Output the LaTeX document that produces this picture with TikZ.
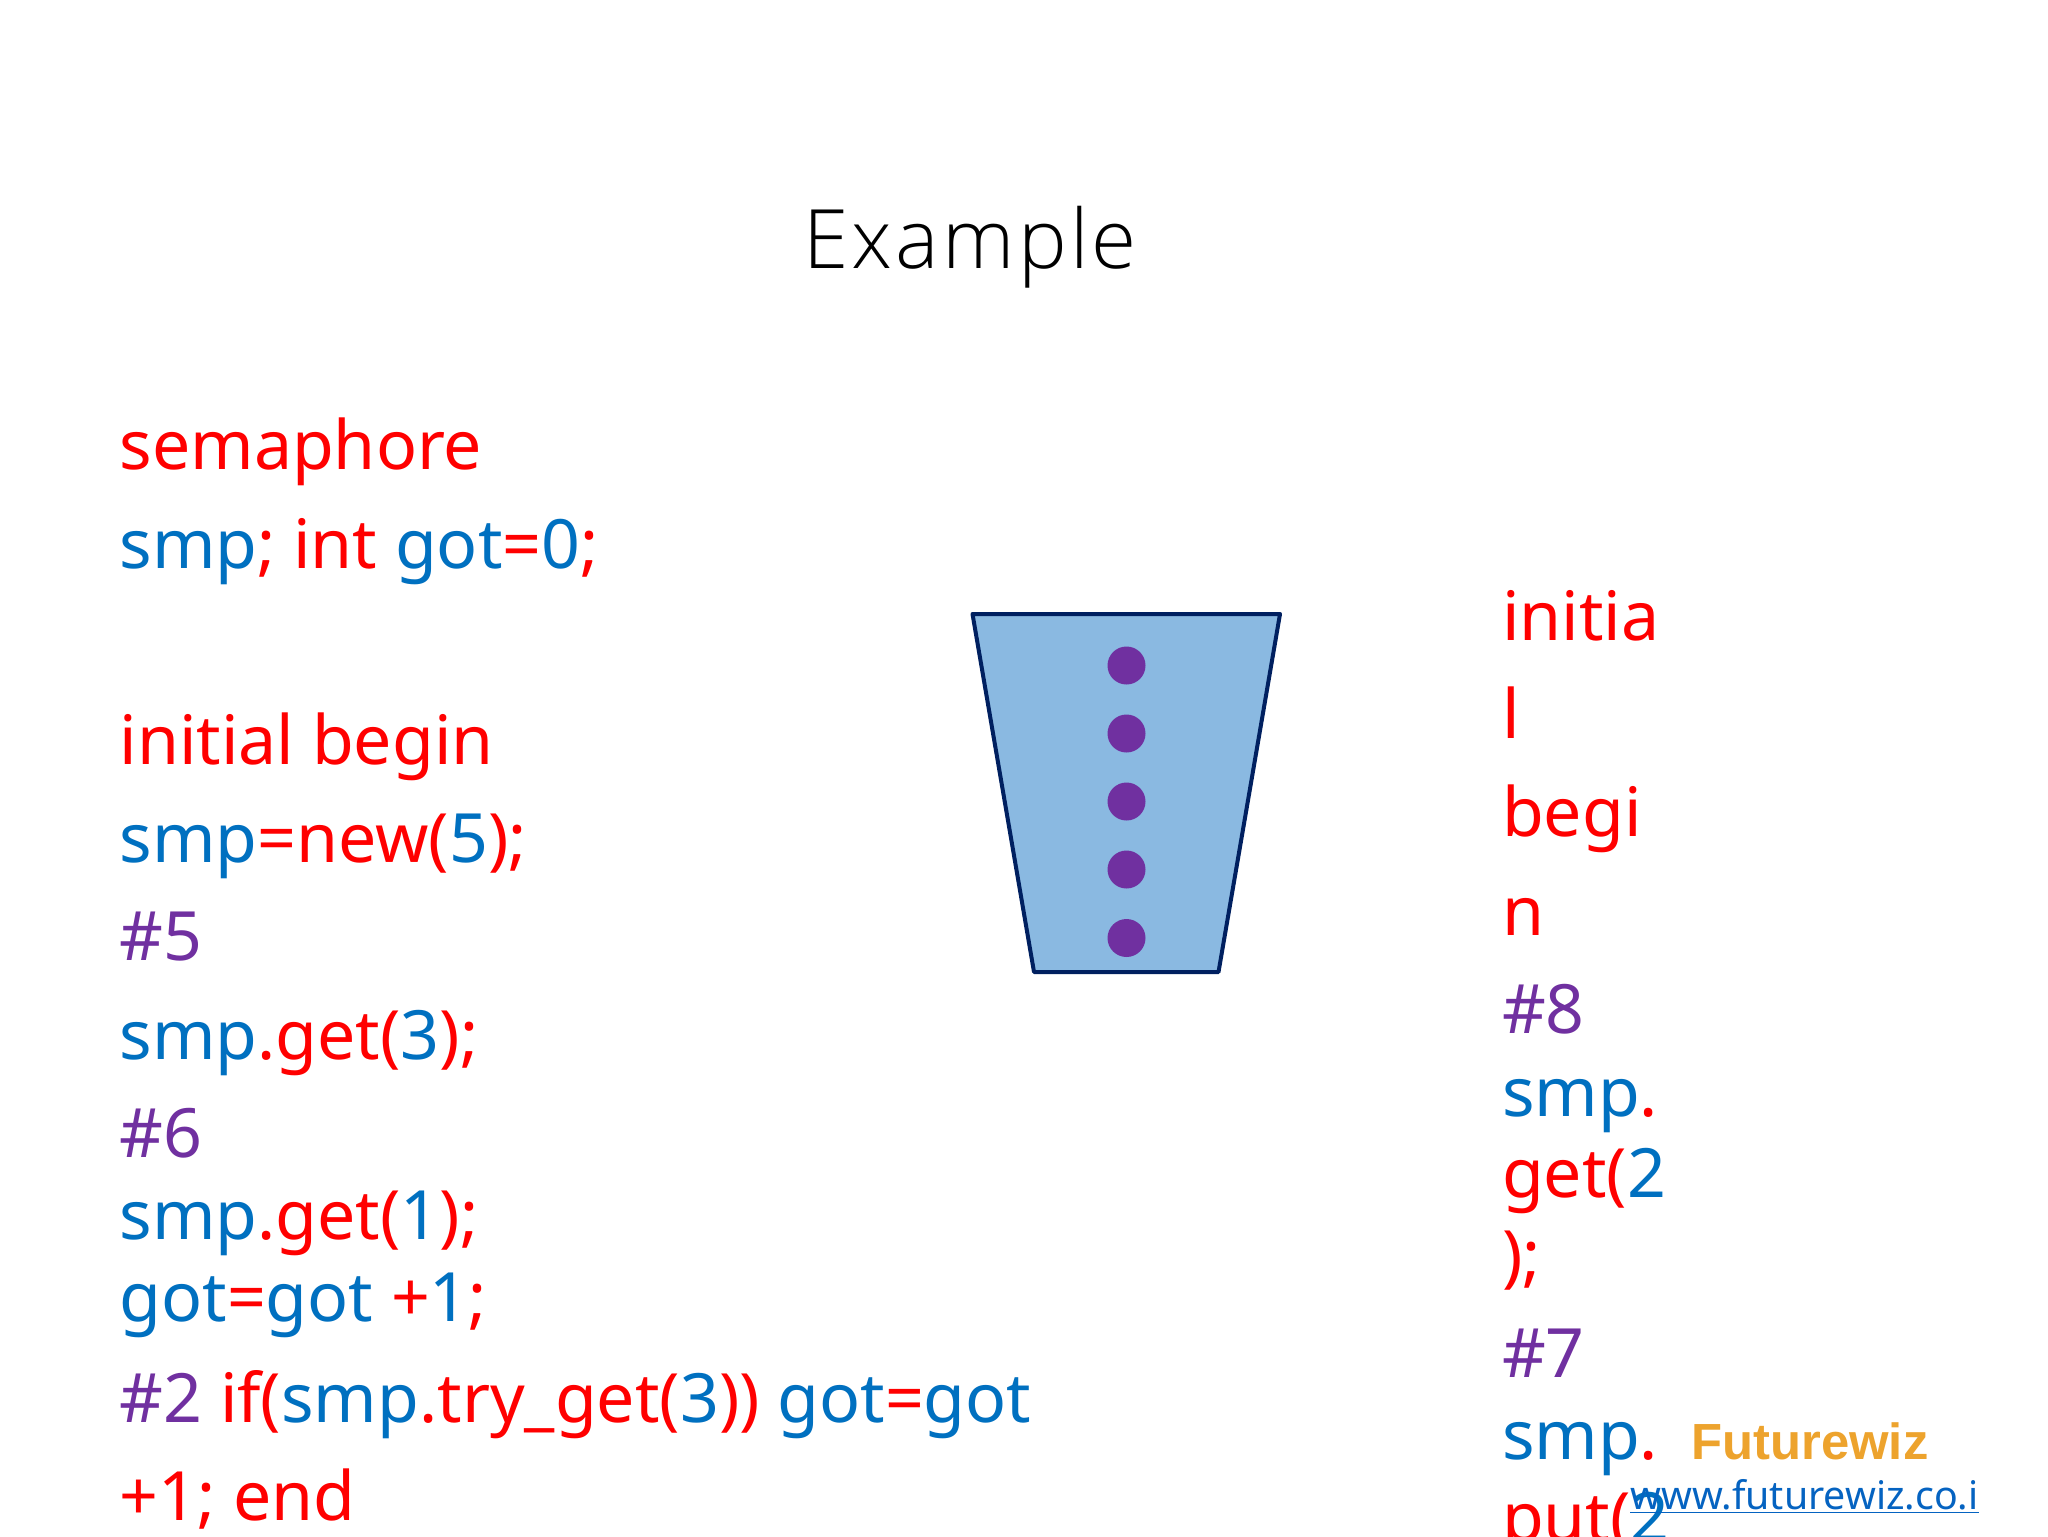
\documentclass[tikz,border=0pt]{standalone}
\usepackage{fontspec}
\setmainfont{Noto Sans}
\newfontfamily\logofont{Liberation Sans}
\newfontfamily\lightfont{Open Sans Light}
\definecolor{cred}{HTML}{FF0000}
\definecolor{cblue}{HTML}{0070C0}
\definecolor{cpurple}{HTML}{7030A0}
\definecolor{corange}{HTML}{EDA32D}
\definecolor{clink}{HTML}{0563C1}
\definecolor{cfill}{HTML}{8AB9E1}
\definecolor{cedge}{HTML}{002060}
\newcommand{\R}[1]{\textcolor{cred}{#1}}
\newcommand{\B}[1]{\textcolor{cblue}{#1}}
\newcommand{\Pu}[1]{\textcolor{cpurple}{#1}}
\tikzset{
 x=0.5pt,y=-0.5pt,
 code/.style={anchor=base west,inner sep=0pt,outer sep=0pt,font=\fontsize{34}{40}\selectfont},
 token/.style={circle,fill=cpurple,minimum size=19pt,inner sep=0pt,draw=none},
 bucket/.style={draw=cedge,fill=cfill,line width=2pt,line join=round}
}
\begin{document}
\begin{tikzpicture}
\useasboundingbox (0,0) rectangle (2048,1536);
\clip (0,0) rectangle (2048,1536);
\fill[white] (0,0) rectangle (2048,1536);
\node[anchor=base,inner sep=0pt,font=\lightfont\fontsize{41}{48}\selectfont\addfontfeatures{LetterSpace=4}] (title) at (970,268) {Example};
\node[code] (l1) at (119.5,469) {\R{semaphore}};
\node[code] (l2) at (119.5,568) {\B{smp}\R{; int }\B{got}\R{=}\B{0}\R{;}};
\node[code] (l3) at (119.5,764) {\R{initial begin}};
\node[code] (l4) at (119.5,862) {\B{smp}\R{=new(}\B{5}\R{);}};
\node[code] (l5) at (119.5,960) {\Pu{\#5}};
\node[code] (l6) at (119.5,1059) {\B{smp}\R{.get(}\B{3}\R{);}};
\node[code] (l7) at (119.5,1157) {\Pu{\#6}};
\node[code] (l8) at (119.5,1239) {\B{smp}\R{.get(}\B{1}\R{);}};
\node[code] (l9) at (119.5,1321) {\B{got}\R{=}\B{got} \R{+}\B{1}\R{;}};
\node[code] (l10) at (119.5,1422) {\Pu{\#2} \R{if(}\B{smp}\R{.try\_get(}\B{3}\R{))} \B{got}\R{=}\B{got}};
\node[code] (l11) at (119.5,1520) {\R{+1; end}};
\node[code] (r1) at (1502,640) {\R{initia}};
\node[code] (r2) at (1502,738) {\R{l}};
\node[code] (r3) at (1502,836) {\R{begi}};
\node[code] (r4) at (1502,935) {\R{n}};
\node[code] (r5) at (1502,1033) {\Pu{\#8}};
\node[code] (r6) at (1502,1116) {\B{smp}\R{.}};
\node[code] (r7) at (1502,1197) {\R{get(}\B{2}};
\node[code] (r8) at (1502,1279) {\R{);}};
\node[code] (r9) at (1502,1377) {\Pu{\#7}};
\node[code] (r10) at (1502,1459) {\B{smp}\R{.}};
\node[code] (r11) at (1502,1541) {\R{put(}\B{2}};
\draw[bucket] (972.5,614) -- (1280,614) -- (1218.5,972) -- (1034,972) -- cycle;
\foreach \n/\y in {a/665.5,b/733.5,c/801.5,d/869.5,e/938}
  \node[token] (dot\n) at (1126.5,\y) {};
\node[anchor=base west,inner sep=0pt,text=corange,font=\logofont\bfseries\fontsize{25.4}{30}\selectfont] (logo) at (1691,1459) {Futurewiz};
\node[anchor=base west,inner sep=0pt,text=clink,font=\fontsize{19.65}{24}\selectfont] (url) at (1630,1509) {\underline{www.futurewiz.co.i}};
\end{tikzpicture}
\end{document}
